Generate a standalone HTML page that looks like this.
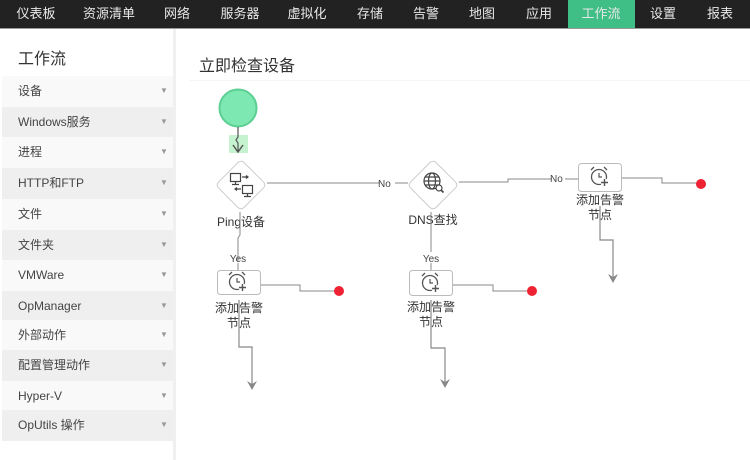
<!DOCTYPE html>
<html><head><meta charset="utf-8">
<style>
html,body{margin:0;padding:0;}
body{width:750px;height:460px;position:relative;overflow:hidden;background:#fff;font-family:"Liberation Sans","Noto Sans CJK SC",sans-serif;}
#top{position:absolute;left:0;top:0;width:750px;height:28px;background:#222;border-bottom:1px solid #999;}
#top span{position:absolute;top:0;height:28px;line-height:28px;font-size:13px;color:#e8e8e8;transform:translateX(-50%);white-space:nowrap;}
#act{position:absolute;left:568px;top:0;width:67px;height:28px;background:#3fbe86;}
#side{position:absolute;left:2px;top:29px;width:171px;height:431px;background:#fff;border-right:3px solid #f0f0f0;}
#side .t{position:absolute;left:16px;top:16px;font-size:16px;color:#333;}
.row{position:absolute;left:0;width:171px;height:30.5px;line-height:30px;font-size:12px;color:#444;}
.row b{position:absolute;left:16px;font-weight:normal;}
.row i{position:absolute;left:158px;top:0;font-style:normal;font-size:8px;color:#999;}
.g{background:#efefef;}.w{background:#f9f9f9;}
#title{position:absolute;left:199px;top:52px;font-size:16px;color:#333;}
#sep{position:absolute;left:190px;top:80px;width:560px;height:1px;background:#f4f4f4;}
svg{position:absolute;left:0;top:0;}
</style></head><body>
<div id="top">
<div id="act"></div>
<span style="left:36px">仪表板</span>
<span style="left:109px">资源清单</span>
<span style="left:177px">网络</span>
<span style="left:240px">服务器</span>
<span style="left:307px">虚拟化</span>
<span style="left:370px">存储</span>
<span style="left:426px">告警</span>
<span style="left:482px">地图</span>
<span style="left:539px">应用</span>
<span style="left:601px">工作流</span>
<span style="left:663px">设置</span>
<span style="left:720px">报表</span>
</div>
<div id="side">
<div class="t">工作流</div>
<div class="row w" style="top:47px"><b>设备</b><i>▼</i></div>
<div class="row g" style="top:78px"><b>Windows服务</b><i>▼</i></div>
<div class="row w" style="top:108px"><b>进程</b><i>▼</i></div>
<div class="row g" style="top:139px"><b>HTTP和FTP</b><i>▼</i></div>
<div class="row w" style="top:170px"><b>文件</b><i>▼</i></div>
<div class="row g" style="top:201px"><b>文件夹</b><i>▼</i></div>
<div class="row w" style="top:231px"><b>VMWare</b><i>▼</i></div>
<div class="row g" style="top:262px"><b>OpManager</b><i>▼</i></div>
<div class="row w" style="top:291px"><b>外部动作</b><i>▼</i></div>
<div class="row g" style="top:321px"><b>配置管理动作</b><i>▼</i></div>
<div class="row w" style="top:352px"><b>Hyper-V</b><i>▼</i></div>
<div class="row g" style="top:381px"><b>OpUtils 操作</b><i>▼</i></div>
</div>
<div id="title">立即检查设备</div>
<div id="sep"></div>
<svg width="750" height="460" viewBox="0 0 750 460" font-family="Liberation Sans, Noto Sans CJK SC, sans-serif">
<defs>
<g id="alarm">
<circle cx="0" cy="0" r="7.5" fill="none" stroke="#555" stroke-width="1.3"/>
<path d="M0,-4 V0 H3" fill="none" stroke="#555" stroke-width="1.2"/>
<path d="M-8,-7 L-5,-10 M8,-7 L5,-10" stroke="#555" stroke-width="1.3"/>
<circle cx="5.5" cy="5.5" r="4" fill="#fff"/>
<path d="M5.5,2 V9 M2,5.5 H9" stroke="#555" stroke-width="1.4"/>
</g>
<marker id="ar" viewBox="0 0 10 10" refX="5" refY="9" markerWidth="9" markerHeight="9" orient="auto-start-reverse" markerUnits="userSpaceOnUse"></marker>
</defs>
<!-- start -->
<rect x="229" y="135" width="19" height="18" fill="#c6f3cf"/>
<circle cx="238" cy="108" r="18.5" fill="#7de8b1" stroke="#5ccf93" stroke-width="2"/>
<path d="M238,127 V137 L236,140 L238,143 V151" fill="none" stroke="#555" stroke-width="1.2"/>
<path d="M233,145 L238,152 L243,145" fill="none" stroke="#555" stroke-width="1.5"/>
<!-- ping diamond -->
<rect x="223" y="167" width="36" height="36" rx="4" fill="#fff" stroke="#ccc" stroke-width="1" transform="rotate(45 241 185)"/>
<g fill="none" stroke="#444" stroke-width="1.2">
<rect x="230.5" y="173.5" width="10" height="8"/>
<path d="M235.5,181.5 V184 M232,184.5 H239"/>
<rect x="242.5" y="185.5" width="10" height="8"/>
<path d="M247.5,193.5 V196 M244,196.5 H251"/>
<path d="M242,177 H248 M246,175.5 L248,177 L246,178.5"/>
<path d="M235,189 H241 M237,187.5 L235,189 L237,190.5"/>
</g>
<text x="241" y="226" font-size="12" fill="#333" text-anchor="middle">Ping设备</text>
<!-- ping -> dns -->
<path d="M267,183 H380" fill="none" stroke="#888" stroke-width="1"/>
<text x="378" y="187" font-size="10" fill="#444">No</text>
<path d="M395,183 H408" fill="none" stroke="#888" stroke-width="1"/>
<!-- dns diamond -->
<rect x="415" y="167" width="36" height="36" rx="4" fill="#fff" stroke="#ccc" stroke-width="1" transform="rotate(45 433 185)"/>
<g fill="none" stroke="#444" stroke-width="1.2">
<circle cx="432" cy="181" r="8"/>
<ellipse cx="432" cy="181" rx="3.5" ry="8"/>
<path d="M424,181 H440 M425.5,177 H438.5 M425.5,185 H438.5"/>
<circle cx="439" cy="188" r="3" fill="#fff"/>
<path d="M441,190 L443.5,192.5" stroke-width="1.6"/>
</g>
<text x="433" y="224" font-size="12" fill="#333" text-anchor="middle">DNS查找</text>
<!-- dns -> right alarm -->
<path d="M459,182 H508 V179 H552" fill="none" stroke="#888" stroke-width="1"/>
<text x="550" y="182" font-size="10" fill="#444">No</text>
<path d="M565,179 H578" fill="none" stroke="#888" stroke-width="1"/>
<!-- right alarm -->
<rect x="578.5" y="163.5" width="43" height="28" rx="3" fill="#fff" stroke="#bbb"/>
<use href="#alarm" x="599" y="177"/>
<text x="600" y="204" font-size="12" fill="#333" text-anchor="middle">添加告警</text>
<text x="600" y="219" font-size="12" fill="#333" text-anchor="middle">节点</text>
<path d="M622,178 H662 V183 H700" fill="none" stroke="#888" stroke-width="1"/>
<circle cx="701" cy="184" r="5" fill="#ee2233"/>
<path d="M600,206 V240 H613 V281" fill="none" stroke="#888" stroke-width="1.2"/>
<path d="M608,274 L613,283 L618,274 L613,277 Z" fill="#888"/>
<!-- ping yes branch -->
<path d="M240,212 V235 L238,238 V262" fill="none" stroke="#888" stroke-width="1"/>
<text x="238" y="262" font-size="10" fill="#444" text-anchor="middle">Yes</text>
<path d="M238,263 V270" fill="none" stroke="#888" stroke-width="1"/>
<rect x="217.5" y="270.5" width="43" height="24" rx="3" fill="#fff" stroke="#bbb"/>
<use href="#alarm" x="237" y="282"/>
<text x="239" y="312" font-size="12" fill="#333" text-anchor="middle">添加告警</text>
<text x="239" y="327" font-size="12" fill="#333" text-anchor="middle">节点</text>
<path d="M261,285 H300 V291 H338" fill="none" stroke="#888" stroke-width="1"/>
<circle cx="339" cy="291" r="5" fill="#ee2233"/>
<path d="M239,300 V347 H252 V388" fill="none" stroke="#888" stroke-width="1.2"/>
<path d="M247,381 L252,390 L257,381 L252,384 Z" fill="#888"/>
<!-- dns yes branch -->
<path d="M431,212 V252" fill="none" stroke="#888" stroke-width="1"/>
<text x="431" y="262" font-size="10" fill="#444" text-anchor="middle">Yes</text>
<path d="M431,263 V270" fill="none" stroke="#888" stroke-width="1"/>
<rect x="409.5" y="270.5" width="43" height="25" rx="3" fill="#fff" stroke="#bbb"/>
<use href="#alarm" x="430" y="283"/>
<text x="431" y="311" font-size="12" fill="#333" text-anchor="middle">添加告警</text>
<text x="431" y="326" font-size="12" fill="#333" text-anchor="middle">节点</text>
<path d="M453,285 H493 V291 H531" fill="none" stroke="#888" stroke-width="1"/>
<circle cx="532" cy="291" r="5" fill="#ee2233"/>
<path d="M431,300 V348 H445 V386" fill="none" stroke="#888" stroke-width="1.2"/>
<path d="M440,379 L445,388 L450,379 L445,382 Z" fill="#888"/>
</svg>
</body></html>
